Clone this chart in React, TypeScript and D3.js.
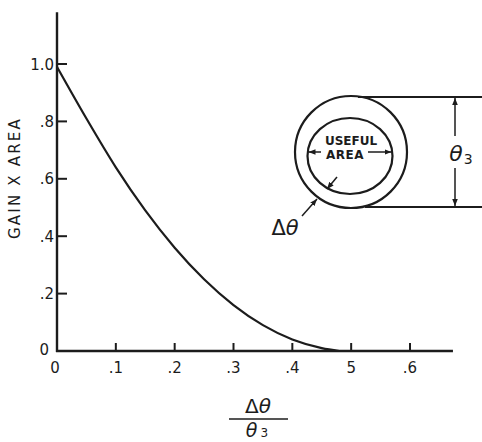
import React from "react";
import * as d3 from "d3";

const ratioValues = [0, 0.05, 0.1, 0.15, 0.2, 0.25, 0.3, 0.35, 0.4, 0.45, 0.48];
const gainAreaValues = [0.99, 0.81, 0.64, 0.49, 0.36, 0.25, 0.16, 0.09, 0.04, 0.01, 0];
const xTicks = [0.1, 0.2, 0.3, 0.4, 0.5, 0.6];
const xTickLabels = [".1", ".2", ".3", ".4", "5", ".6"];
const yTicks = [0.2, 0.4, 0.6, 0.8, 1.0];
const yTickLabels = [".2", ".4", ".6", ".8", "1.0"];

const W = 482;
const H = 442;
const font = "'DejaVu Sans', sans-serif";
const ink = "#1c1c1c";

export default function App() {
  const x = d3.scaleLinear().domain([0, 0.6]).range([57, 410]);
  const y = d3.scaleLinear().domain([0, 1]).range([351, 64]);
  const pts: [number, number][] = ratioValues.map((v, i) => [v, gainAreaValues[i]]);
  const line = d3
    .line<[number, number]>()
    .x((d) => x(d[0]))
    .y((d) => y(d[1]))
    .curve(d3.curveMonotoneX);

  const x0 = x(0);
  const y0 = y(0);
  const xEnd = x(0.673);
  const yTop = y(1.18);

  // inset diagram geometry
  const cx = 351, cy = 152, R = 56;
  const icx = 350, icy = 156, irx = 42.5, iry = 38;
  const topY = cy - R + 1, botY = cy + R - 1;
  const dimX = 455;

  return (
    <div style={{ position: "absolute", left: 0, top: 0, margin: 0 }}>
      <svg width={W} height={H} viewBox={`0 0 ${W} ${H}`} style={{ display: "block", background: "#fff" }}>
        <defs>
          <marker id="arr" viewBox="0 0 10 10" refX="10" refY="5" markerWidth="7" markerHeight="7" orient="auto-start-reverse" markerUnits="userSpaceOnUse">
            <path d="M0,1 L10,5 L0,9 Z" fill={ink} />
          </marker>
        </defs>
        <rect x={0} y={0} width={W} height={H} fill="#fff" />

        {/* axes */}
        <line x1={x0} y1={yTop} x2={x0} y2={y0 + 1} stroke={ink} strokeWidth={2.4} />
        <line x1={x0 - 1} y1={y0} x2={xEnd} y2={y0} stroke={ink} strokeWidth={2.4} />

        {yTicks.map((t, i) => (
          <g key={"yt" + i}>
            <line x1={x0} x2={x0 + 10} y1={y(t)} y2={y(t)} stroke={ink} strokeWidth={2} />
            <text x={x0 - 3} y={y(t) + 5.5} textAnchor="end" fontFamily={font} fontSize={15} fill={ink}>
              {yTickLabels[i]}
            </text>
          </g>
        ))}
        <text x={49} y={y0 + 4} textAnchor="end" fontFamily={font} fontSize={15} fill={ink}>0</text>

        {xTicks.map((t, i) => (
          <g key={"xt" + i}>
            <line x1={x(t)} x2={x(t)} y1={y0} y2={y0 - 8} stroke={ink} strokeWidth={2} />
            <text x={x(t)} y={373} textAnchor="middle" fontFamily={font} fontSize={15} fill={ink}>
              {xTickLabels[i]}
            </text>
          </g>
        ))}
        <text x={x0 - 2} y={373} textAnchor="middle" fontFamily={font} fontSize={15} fill={ink}>0</text>

        {/* y label */}
        <text
          transform={`translate(20,178) rotate(-90)`}
          textAnchor="middle"
          fontFamily={font}
          fontSize={15}
          fontWeight={500}
          letterSpacing={2.2}
          fill={ink}
        >
          GAIN X AREA
        </text>

        {/* x label fraction */}
        <text x={258} y={413} textAnchor="middle" fontFamily={font} fontSize={20} fill={ink}>
          <tspan>Δ</tspan>
          <tspan fontStyle="italic">θ</tspan>
        </text>
        <line x1={229} x2={288} y1={419} y2={419} stroke={ink} strokeWidth={1.5} />
        <text x={257} y={437} textAnchor="middle" fontFamily={font} fontSize={19} fill={ink}>
          <tspan fontStyle="italic">θ</tspan>
          <tspan fontSize={12} dx={3}>3</tspan>
        </text>

        {/* curve */}
        <path d={line(pts) || ""} fill="none" stroke={ink} strokeWidth={2.2} />

        {/* inset diagram */}
        <circle cx={cx} cy={cy} r={R} fill="none" stroke={ink} strokeWidth={2.2} />
        <ellipse cx={icx} cy={icy} rx={irx} ry={iry} fill="none" stroke={ink} strokeWidth={2.2} />
        <line x1={358} x2={W} y1={topY} y2={topY} stroke={ink} strokeWidth={1.8} />
        <line x1={365} x2={W} y1={botY} y2={botY} stroke={ink} strokeWidth={1.8} />
        <line x1={dimX} x2={dimX} y1={136} y2={topY + 1} stroke={ink} strokeWidth={1.5} markerEnd="url(#arr)" />
        <line x1={dimX} x2={dimX} y1={168} y2={botY - 1} stroke={ink} strokeWidth={1.5} markerEnd="url(#arr)" />
        <text x={461} y={161} textAnchor="middle" fontFamily={font} fontSize={22} fill={ink}>
          <tspan fontStyle="italic">θ</tspan>
          <tspan fontSize={14} dx={1} dy={3}>3</tspan>
        </text>

        <text x={351} y={145} textAnchor="middle" fontFamily={font} fontSize={12} fontWeight={700} fill={ink}>
          USEFUL
        </text>
        <text x={345} y={159} textAnchor="middle" fontFamily={font} fontSize={12} fontWeight={700} letterSpacing={0.5} fill={ink}>
          AREA
        </text>
        <line x1={321} x2={icx - irx + 1} y1={152} y2={152} stroke={ink} strokeWidth={1.5} markerEnd="url(#arr)" />
        <line x1={368} x2={icx + irx - 1} y1={152} y2={152} stroke={ink} strokeWidth={1.5} markerEnd="url(#arr)" />

        <line x1={302} x2={317} y1={216} y2={199} stroke={ink} strokeWidth={1.5} markerEnd="url(#arr)" />
        <line x1={337} x2={327} y1={177} y2={189} stroke={ink} strokeWidth={1.5} markerEnd="url(#arr)" />
        <text x={285} y={235} textAnchor="middle" fontFamily={font} fontSize={21} fill={ink}>
          <tspan>Δ</tspan>
          <tspan fontStyle="italic">θ</tspan>
        </text>
      </svg>
    </div>
  );
}
